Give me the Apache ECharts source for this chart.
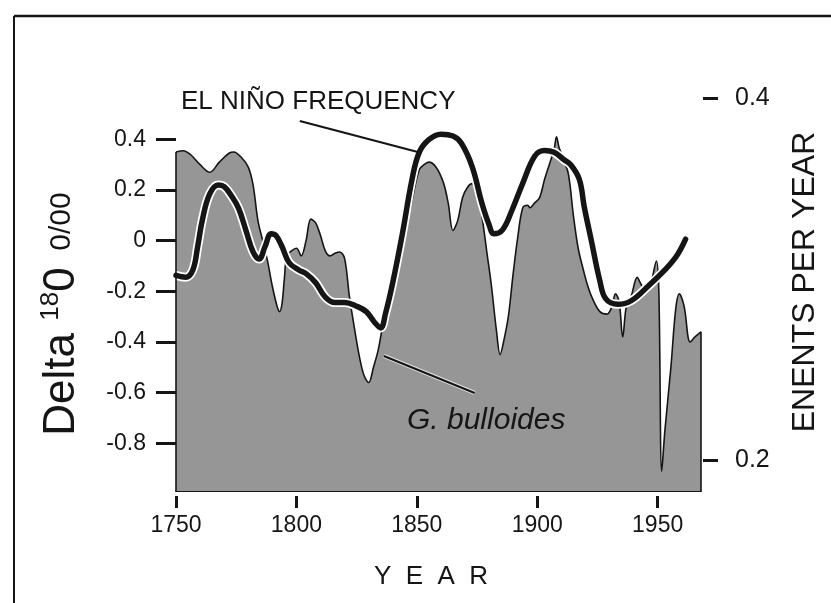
<!DOCTYPE html>
<html><head><meta charset="utf-8">
<script src="https://cdn.jsdelivr.net/npm/echarts@6/dist/echarts.min.js"></script>
<style>html,body{margin:0;padding:0;background:#fff}#c{width:831px;height:603px}</style>
</head><body><div id="c"></div>
<script>
// G. bulloides delta 18O (left axis)
const bullYears = [1750,1753,1756,1760,1764,1768,1772,1774,1777,1780,1782,1784,1786,1788,1790,1792,1793,1794,1795,1796,1798,1800,1802,1804,1806,1808,1810,1812,1814,1816,1818,1820,1822,1824,1826,1828,1830,1832,1834,1836,1838,1840,1843,1845,1848,1851,1853,1855,1858,1861,1863,1865,1867,1869,1871,1873,1875,1877,1879,1881,1883,1884.6,1886,1888,1890,1892,1894,1896,1897,1899,1901,1903,1905,1907,1908,1909,1911,1913,1915,1917,1919,1921,1923,1926,1929,1931,1932.5,1934,1935.5,1937,1939,1941.5,1943,1945,1947,1949.5,1950.5,1951.7,1953,1955.5,1957.5,1959,1961,1963.5,1965.5,1968];
const bullValues = [0.35,0.355,0.34,0.30,0.27,0.31,0.345,0.35,0.33,0.29,0.22,0.08,0.0,-0.08,-0.18,-0.26,-0.28,-0.25,-0.15,-0.06,-0.04,-0.03,-0.06,0.0,0.085,0.07,0.02,-0.04,-0.06,-0.05,-0.045,-0.07,-0.22,-0.34,-0.45,-0.53,-0.56,-0.50,-0.43,-0.33,-0.27,-0.22,-0.08,0.03,0.16,0.28,0.30,0.31,0.29,0.23,0.15,0.04,0.08,0.17,0.21,0.225,0.21,0.10,-0.04,-0.18,-0.35,-0.45,-0.40,-0.30,-0.13,0.02,0.13,0.14,0.13,0.15,0.17,0.24,0.30,0.36,0.41,0.37,0.32,0.26,0.10,-0.03,-0.11,-0.18,-0.23,-0.28,-0.29,-0.26,-0.21,-0.24,-0.38,-0.26,-0.22,-0.145,-0.17,-0.20,-0.175,-0.08,-0.20,-0.91,-0.75,-0.50,-0.27,-0.21,-0.26,-0.40,-0.38,-0.36];
// El Nino frequency, events per year (right axis)
const ninoYears = [1750,1754,1757,1759,1761,1764,1767.5,1770,1773,1776,1779,1782,1784.5,1787,1789.5,1791.5,1794,1797,1801,1804,1808,1812,1816,1820,1825,1829,1832.5,1835,1837,1840,1844,1848,1851,1855,1860,1865,1868.5,1873,1877,1880,1882,1885.5,1889.5,1894,1899,1903,1907,1911,1914,1917.5,1919.5,1922.5,1926,1928.5,1933.5,1939,1946,1953,1958,1961.6];
const ninoValues = [0.302,0.301,0.305,0.318,0.333,0.347,0.352,0.351,0.346,0.339,0.327,0.315,0.311,0.318,0.325,0.324,0.318,0.309,0.305,0.303,0.298,0.29,0.287,0.287,0.285,0.282,0.276,0.273,0.281,0.298,0.325,0.355,0.370,0.377,0.380,0.379,0.375,0.362,0.342,0.330,0.325,0.327,0.338,0.353,0.368,0.371,0.370,0.366,0.363,0.355,0.34,0.321,0.299,0.289,0.286,0.288,0.296,0.305,0.313,0.322];
// tick labels
const yearTicks = [1750,1800,1850,1900,1950];
const deltaTicks = [-0.8,-0.6,-0.4,-0.2,0,0.2,0.4];
const eventTicks = [0.2,0.4];
// annotation pointer ends (data space, left axis)
const ninoPointer = [[1801.4,0.472],[1850.4,0.35]];
const bullPointer = [[1836.3,-0.455],[1874.0,-0.601]];

const X_MIN=1750, X_MAX=1968, D_MIN=-0.988, D_MAX=0.563, E_MIN=0.1829, E_MAX=0.4;
const FONT = "'Liberation Sans', Arial, Helvetica, sans-serif";
const INK = '#151515';
const chart = echarts.init(document.getElementById('c'), null, {renderer:'canvas'});
const bull = bullYears.map((y,i)=>[y,bullValues[i]]);
const nino = ninoYears.map((y,i)=>[y,ninoValues[i]]);

const option = {
  animation:false,
  backgroundColor:'#fff',
  grid:{left:176,right:130,top:98,bottom:112},
  xAxis:[
    {type:'value',min:X_MIN,max:X_MAX,position:'bottom',
     axisLine:{show:true,onZero:false,lineStyle:{color:INK,width:2}},axisTick:{show:false},axisLabel:{show:false},splitLine:{show:false}},
    {type:'value',min:X_MIN,max:X_MAX,position:'bottom',offset:5,
     axisLine:{show:false,onZero:false},
     axisTick:{show:true,length:12,customValues:yearTicks,lineStyle:{color:INK,width:3}},
     axisLabel:{customValues:yearTicks,margin:18,fontSize:23,color:INK,fontFamily:FONT,formatter:v=>String(v)},
     splitLine:{show:false}}
  ],
  yAxis:[
    {type:'value',min:D_MIN,max:D_MAX,position:'left',
     axisLine:{show:false,onZero:false},
     axisTick:{show:true,length:20,customValues:deltaTicks,lineStyle:{color:INK,width:3}},
     axisLabel:{customValues:deltaTicks,margin:30,fontSize:23,color:INK,fontFamily:FONT,formatter:v=>String(v)},
     splitLine:{show:false}},
    {type:'value',min:E_MIN,max:E_MAX,position:'right',offset:2,
     axisLine:{show:false,onZero:false},
     axisTick:{show:true,length:15,customValues:eventTicks,lineStyle:{color:INK,width:3}},
     axisLabel:{customValues:eventTicks,margin:32,fontSize:25,color:INK,fontFamily:FONT,formatter:v=>String(v)},
     splitLine:{show:false}}
  ],
  series:[
    {type:'line',name:'G. bulloides',xAxisIndex:0,yAxisIndex:0,data:bull,smooth:0.35,symbol:'none',
     lineStyle:{color:INK,width:1.6},areaStyle:{color:'#969696',opacity:1,origin:'start'},
     markLine:{silent:true,symbol:'none',label:{show:false},lineStyle:{type:'solid',color:INK,width:1.6},
       data:[[{coord:[X_MIN,D_MIN]},{coord:[X_MIN,bullValues[0]]}],
             [{coord:[X_MAX,D_MIN]},{coord:[X_MAX,bullValues[bullValues.length-1]]}]]}},
    {type:'line',name:'halo',xAxisIndex:0,yAxisIndex:1,data:nino,smooth:0.4,symbol:'none',
     lineStyle:{color:'#ffffff',width:9,cap:'round',join:'round'}},
    {type:'line',name:'El Nino',xAxisIndex:0,yAxisIndex:1,data:nino,smooth:0.4,symbol:'none',
     lineStyle:{color:INK,width:5.5,cap:'round',join:'round'}},
    {type:'line',name:'pointers',xAxisIndex:0,yAxisIndex:0,data:[],symbol:'none',
     markLine:{silent:true,symbol:'none',label:{show:false},
       data:[
         [{coord:bullPointer[0],lineStyle:{color:'#e8e8e8',width:4,type:'solid'}},{coord:bullPointer[1]}],
         [{coord:bullPointer[0],lineStyle:{color:INK,width:2.2,type:'solid'}},{coord:bullPointer[1]}],
         [{coord:ninoPointer[0],lineStyle:{color:INK,width:2.2,type:'solid'}},{coord:ninoPointer[1]}]
       ]}}
  ],
  graphic:[
    {type:'line',shape:{x1:14,y1:16,x2:831,y2:16},style:{stroke:INK,lineWidth:2.5}},
    {type:'line',shape:{x1:14,y1:16,x2:14,y2:603},style:{stroke:INK,lineWidth:2}},
    {type:'text',x:181,y:102,style:{text:'EL NIÑO FREQUENCY',fontSize:26,fontFamily:FONT,fill:INK,align:'left',verticalAlign:'middle'}},
    {type:'text',x:407,y:421,z:100,style:{text:'G. bulloides',fontSize:30,fontStyle:'italic',fontFamily:FONT,fill:INK,align:'left',verticalAlign:'middle'}},
    {type:'text',x:431,y:577,style:{text:'Y  E  A  R',fontSize:26,fontFamily:FONT,fill:INK,align:'center',verticalAlign:'middle'}},
    {type:'text',x:805,y:282,rotation:Math.PI/2,style:{text:'ENENTS PER YEAR',fontSize:32,fontFamily:FONT,fill:INK,align:'center',verticalAlign:'middle'}},
    {type:'text',x:62,y:314,rotation:Math.PI/2,style:{
      text:'{a|Delta }{s|18}{a|0}{b|  0/00}',align:'center',verticalAlign:'middle',
      rich:{a:{fontSize:44,fontFamily:FONT,fill:INK,color:INK},
            s:{fontSize:26,fontFamily:FONT,fill:INK,color:INK,padding:[0,0,22,0]},
            b:{fontSize:30,fontFamily:FONT,fill:INK,color:INK}}}}
  ]
};
chart.setOption(option);
</script></body></html>
